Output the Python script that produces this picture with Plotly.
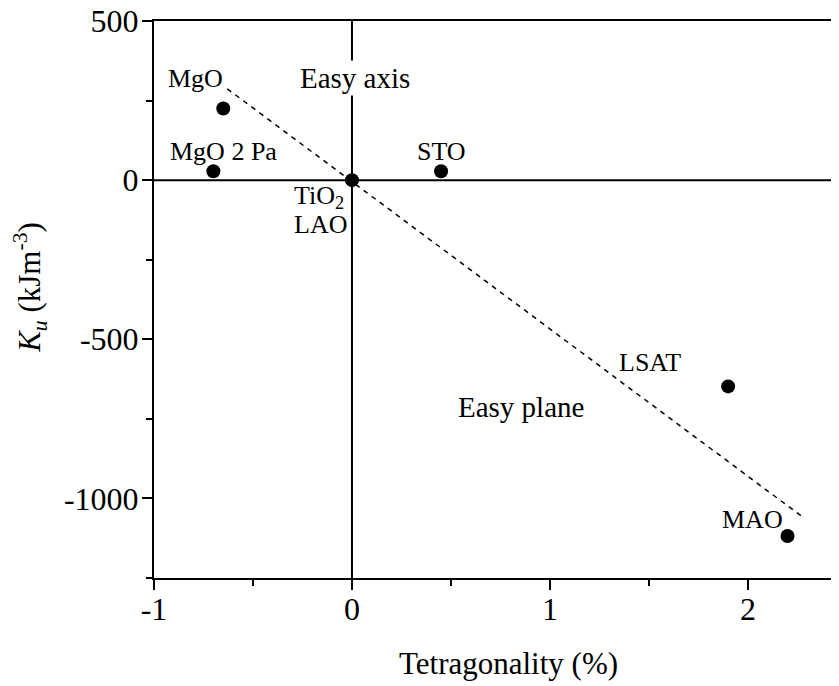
import plotly.graph_objects as go

# Data
substrates = ["MgO", "MgO 2 Pa", "TiO2 / LAO", "STO", "LSAT", "MAO"]
tetragonality = [-0.65, -0.70, 0.0, 0.45, 1.90, 2.20]
ku = [225, 28, 0, 28, -648, -1118]

fit_x = [-0.63, 2.28]
fit_y = [287, -1060]

x_ticks = [-1, 0, 1, 2]
y_ticks = [-1000, -500, 0, 500]

FONT = "Liberation Serif"

fig = go.Figure()
fig.add_trace(go.Scatter(x=fit_x, y=fit_y, mode="lines",
                         line=dict(color="black", width=1.5, dash="5px,5px"),
                         hoverinfo="skip", showlegend=False))
fig.add_trace(go.Scatter(x=tetragonality, y=ku, mode="markers", text=substrates,
                         marker=dict(color="black", size=14), showlegend=False))

# crosshair lines at x=0 and y=0
fig.add_shape(type="line", xref="x", yref="paper", x0=0, x1=0, y0=0, y1=1,
              line=dict(color="black", width=2), layer="below")
fig.add_shape(type="line", xref="paper", yref="y", x0=0, x1=1, y0=0, y1=0,
              line=dict(color="black", width=2), layer="below")

labels = [
    ("MgO", -0.79, 320, None, 26),
    ("Easy axis", 0.015, 320, "white", 29),
    ("MgO 2 Pa", -0.65, 91, None, 26),
    ("STO", 0.45, 91, None, 26),
    ("TiO<sub>2</sub>", -0.165, -53, None, 26),
    ("LAO", -0.16, -138, None, 26),
    ("LSAT", 1.505, -574, None, 26),
    ("Easy plane", 0.852, -712, None, 29),
    ("MAO", 2.025, -1066, None, 26),
]
for txt, lx, ly, bg, fs in labels:
    fig.add_annotation(x=lx, y=ly, xref="x", yref="y", text=txt, showarrow=False,
                       font=dict(family=FONT, size=fs, color="black"),
                       bgcolor=bg if bg else "rgba(0,0,0,0)",
                       xanchor="center", yanchor="middle")

fig.add_annotation(x=-0.181, y=0.521, xref="paper", yref="paper",
                   text="<i>K</i><sub><i>u</i></sub> (kJm<sup>-3</sup>)",
                   textangle=-90, showarrow=False, xanchor="center", yanchor="middle",
                   font=dict(family=FONT, size=31, color="black"))
fig.add_annotation(x=0.517, y=-0.153, xref="paper", yref="paper",
                   text="Tetragonality (%)", showarrow=False,
                   xanchor="center", yanchor="middle",
                   font=dict(family=FONT, size=31, color="black"))

fig.update_xaxes(range=[-1, 2.46], tickmode="array", tickvals=x_ticks,
                 ticktext=[str(v) for v in x_ticks], automargin=False,
                 ticklabeloverflow="allow", ticklabelstandoff=-8,
                 showgrid=False, zeroline=False, showline=True, linecolor="black",
                 linewidth=2, mirror=True, ticks="outside", ticklen=10, tickwidth=2,
                 tickcolor="black",
                 minor=dict(dtick=0.5, tick0=0, ticks="outside", ticklen=6,
                            tickwidth=2, tickcolor="black"),
                 tickfont=dict(family=FONT, size=32, color="black"))
fig.update_yaxes(range=[-1250, 500], tickmode="array", tickvals=y_ticks,
                 ticktext=[str(v) for v in y_ticks], automargin=False,
                 ticklabeloverflow="allow", ticklabelstandoff=-3,
                 showgrid=False, zeroline=False, showline=True, linecolor="black",
                 linewidth=2, mirror=False, ticks="outside", ticklen=10, tickwidth=2,
                 tickcolor="black",
                 minor=dict(dtick=250, tick0=0, ticks="outside", ticklen=6,
                            tickwidth=2, tickcolor="black"),
                 tickfont=dict(family=FONT, size=32, color="black"))

fig.update_layout(width=831, height=678, plot_bgcolor="white", paper_bgcolor="white",
                  margin=dict(l=146, r=0, t=13, b=108, autoexpand=False),
                  showlegend=False, font=dict(family=FONT))

fig.write_html("out.html")
